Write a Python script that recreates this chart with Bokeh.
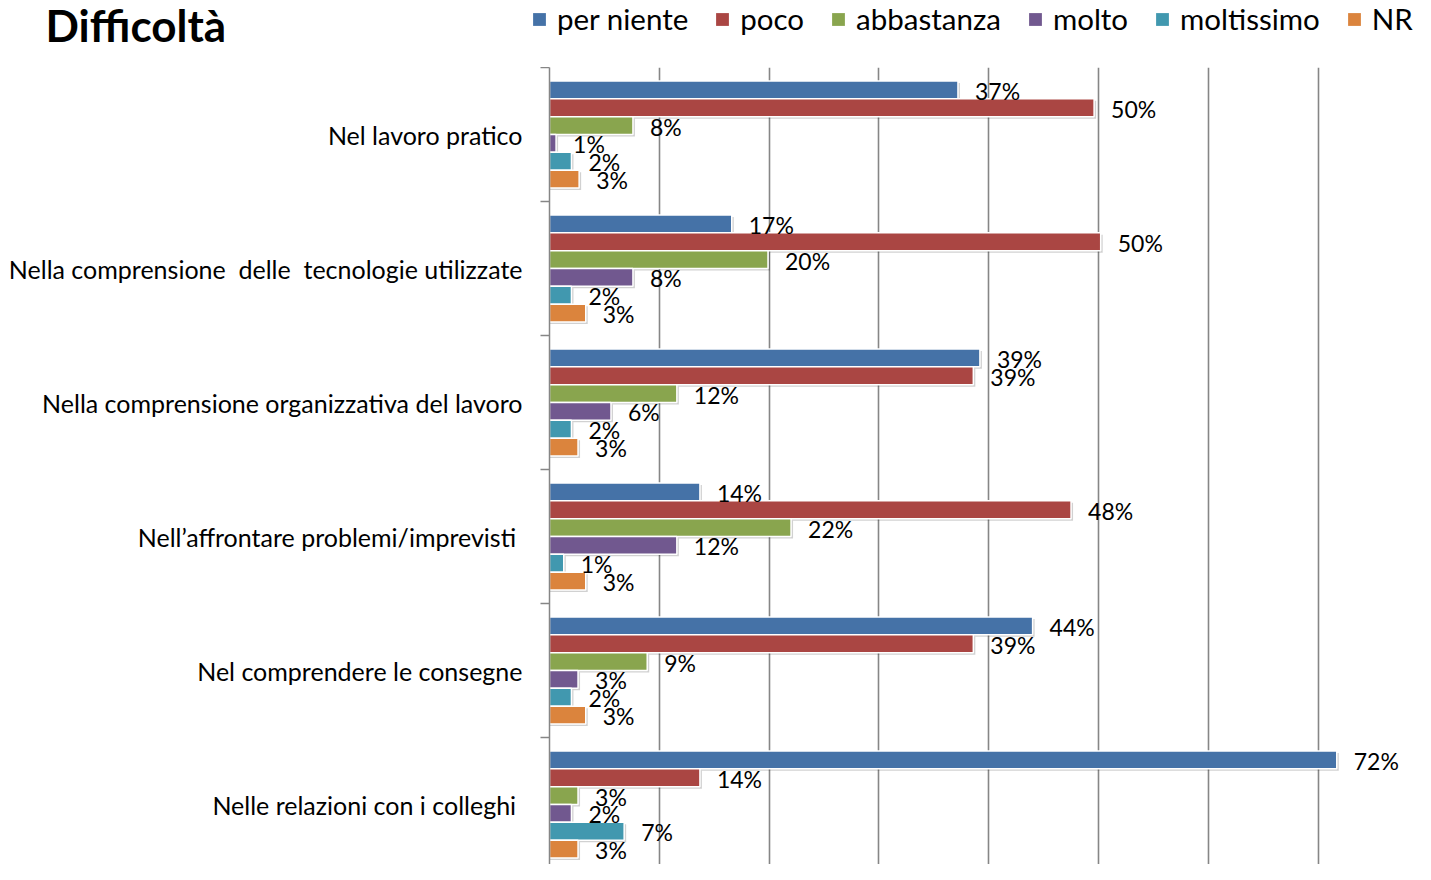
from bokeh.plotting import figure
from bokeh.models import (Range1d, FixedTicker, Legend, LegendItem, Label, ColumnDataSource)
from bokeh.layouts import column
from bokeh.core.properties import value
from bokeh.embed import file_html
from bokeh.resources import INLINE

# ---------------- data ----------------
categories = [
    "Nel lavoro pratico",
    "Nella comprensione  delle  tecnologie utilizzate",
    "Nella comprensione organizzativa del lavoro",
    "Nell\u2019affrontare problemi/imprevisti ",
    "Nel comprendere le consegne",
    "Nelle relazioni con i colleghi ",
]
series = ["per niente", "poco", "abbastanza", "molto", "moltissimo", "NR"]
per_niente = [37.2, 16.6, 39.2, 13.7, 44.0, 71.7]
poco = [49.6, 50.2, 38.6, 47.5, 38.6, 13.7]
abbastanza = [7.6, 19.9, 11.6, 22.0, 8.9, 2.6]
molto = [0.6, 7.6, 5.6, 11.6, 2.6, 2.0]
moltissimo = [2.0, 2.0, 2.0, 1.3, 2.0, 6.8]
nr = [2.7, 3.3, 2.6, 3.3, 3.3, 2.6]
values = [per_niente, poco, abbastanza, molto, moltissimo, nr]
colors = ["#4572A7", "#AA4643", "#89A54E", "#71588F", "#4198AF", "#DB843D"]
title_text = "Difficolt\u00e0"

FONT = "Lato"

# ---------------- geometry ----------------
W = 1415
HDR_H = 67
MAIN_H = 864 - HDR_H
LEFT = 549
cat_px = 134.0
n_cat = len(categories)
n_ser = len(series)
bw = 1.0 / (n_ser + 1.5)          # bar slot (gap width 150%)
x_end = (W - LEFT) / 10.98


def no_align(fig):
    if "frame_align" in fig.properties():
        fig.frame_align = False


# ---------------- header (title + legend) ----------------
hdr = figure(width=W, height=HDR_H, output_backend="svg", toolbar_location=None,
             x_range=Range1d(0, W), y_range=Range1d(HDR_H, 0),
             min_border=0)
no_align(hdr)
hdr.title.visible = False
hdr.axis.visible = False
hdr.grid.visible = False
hdr.outline_line_color = None

items = []
for name, col in zip(series, colors):
    # zero-width placeholder glyph that only feeds the legend swatch
    dr = hdr.hbar(y=[0], left=[0], right=[0], height=0, fill_color=col, line_color=None)
    items.append(LegendItem(label=name, renderers=[dr]))

legend = Legend(items=items, orientation="horizontal",
                location=(531, 31),
                glyph_width=16, glyph_height=16, label_standoff=10, spacing=26,
                padding=0, margin=0, border_line_color=None,
                background_fill_alpha=0,
                label_text_font=FONT, label_text_font_size="29.5px",
                label_text_color="black")
hdr.add_layout(legend, "center")

hdr.add_layout(Label(x=45, y=24, text=title_text, text_font=FONT,
                     text_font_size="44px", text_font_style="bold",
                     text_color="black", text_baseline="alphabetic"))

# ---------------- main chart ----------------
p = figure(width=W, height=MAIN_H, output_backend="svg", toolbar_location=None,
           x_range=Range1d(0, x_end),
           y_range=Range1d(0.5 + MAIN_H / cat_px, 0.5),
           min_border_top=0, min_border_left=LEFT,
           min_border_right=0, min_border_bottom=0)
no_align(p)
p.title.visible = False
p.outline_line_color = None

px_x = (W - LEFT) / x_end  # pixels per percent
sh_dx = 2.0 / px_x
sh_dy = 2.0 / cat_px

sources = []
for j, (name, vals, col) in enumerate(zip(series, values, colors)):
    ys = [i + 1 + (j - (n_ser - 1) / 2) * bw for i in range(n_cat)]
    src = ColumnDataSource(dict(
        y=ys, v=vals,
        ys=[y + sh_dy for y in ys],
        vs=[v + sh_dx for v in vals],
        lab=[f"{v:.0f}%" for v in vals],
    ))
    sources.append(src)
    # soft shadow
    p.hbar(y="ys", left=0, right="vs", height=bw, source=src,
           fill_color="black", fill_alpha=0.18, line_color=None)
    p.hbar(y="y", left=0, right="v", height=bw, source=src,
           fill_color=col, line_color="white", line_width=1.5)

# data labels on top of every bar
for src in sources:
    p.text(x="v", y="y", text="lab", source=src, x_offset=17, y_offset=1,
           text_font=value(FONT), text_font_size="23px", text_color="black",
           text_baseline="middle", text_align="left")

# grid
p.xgrid.ticker = FixedTicker(ticks=[10, 20, 30, 40, 50, 60, 70, 80])
p.xgrid.grid_line_color = "#868686"
p.xgrid.grid_line_width = 1.6
p.ygrid.visible = False
p.xaxis.visible = False

# y axis
disp = [c.replace("  ", " \u00a0").rstrip(" ") + ("\u00a0" if c.endswith(" ") else "")
        for c in categories]
centers = list(range(1, n_cat + 1))
bounds = [i + 0.5 for i in range(0, n_cat + 1)]
ya = p.yaxis[0]
ya.ticker = FixedTicker(ticks=centers, minor_ticks=bounds)
ya.major_label_overrides = {c: d for c, d in zip(centers, disp)}
ya.major_tick_out = 0
ya.major_tick_in = 0
ya.minor_tick_out = 9
ya.minor_tick_in = 0
ya.minor_tick_line_color = "#868686"
ya.minor_tick_line_width = 1.5
ya.axis_line_color = "#868686"
ya.axis_line_width = 1.5
ya.major_label_standoff = 18
ya.major_label_text_font = FONT
ya.major_label_text_font_size = "25px"
ya.major_label_text_color = "black"

layout = column(hdr, p, spacing=0)
open("out.html", "w").write(file_html(layout, INLINE))
